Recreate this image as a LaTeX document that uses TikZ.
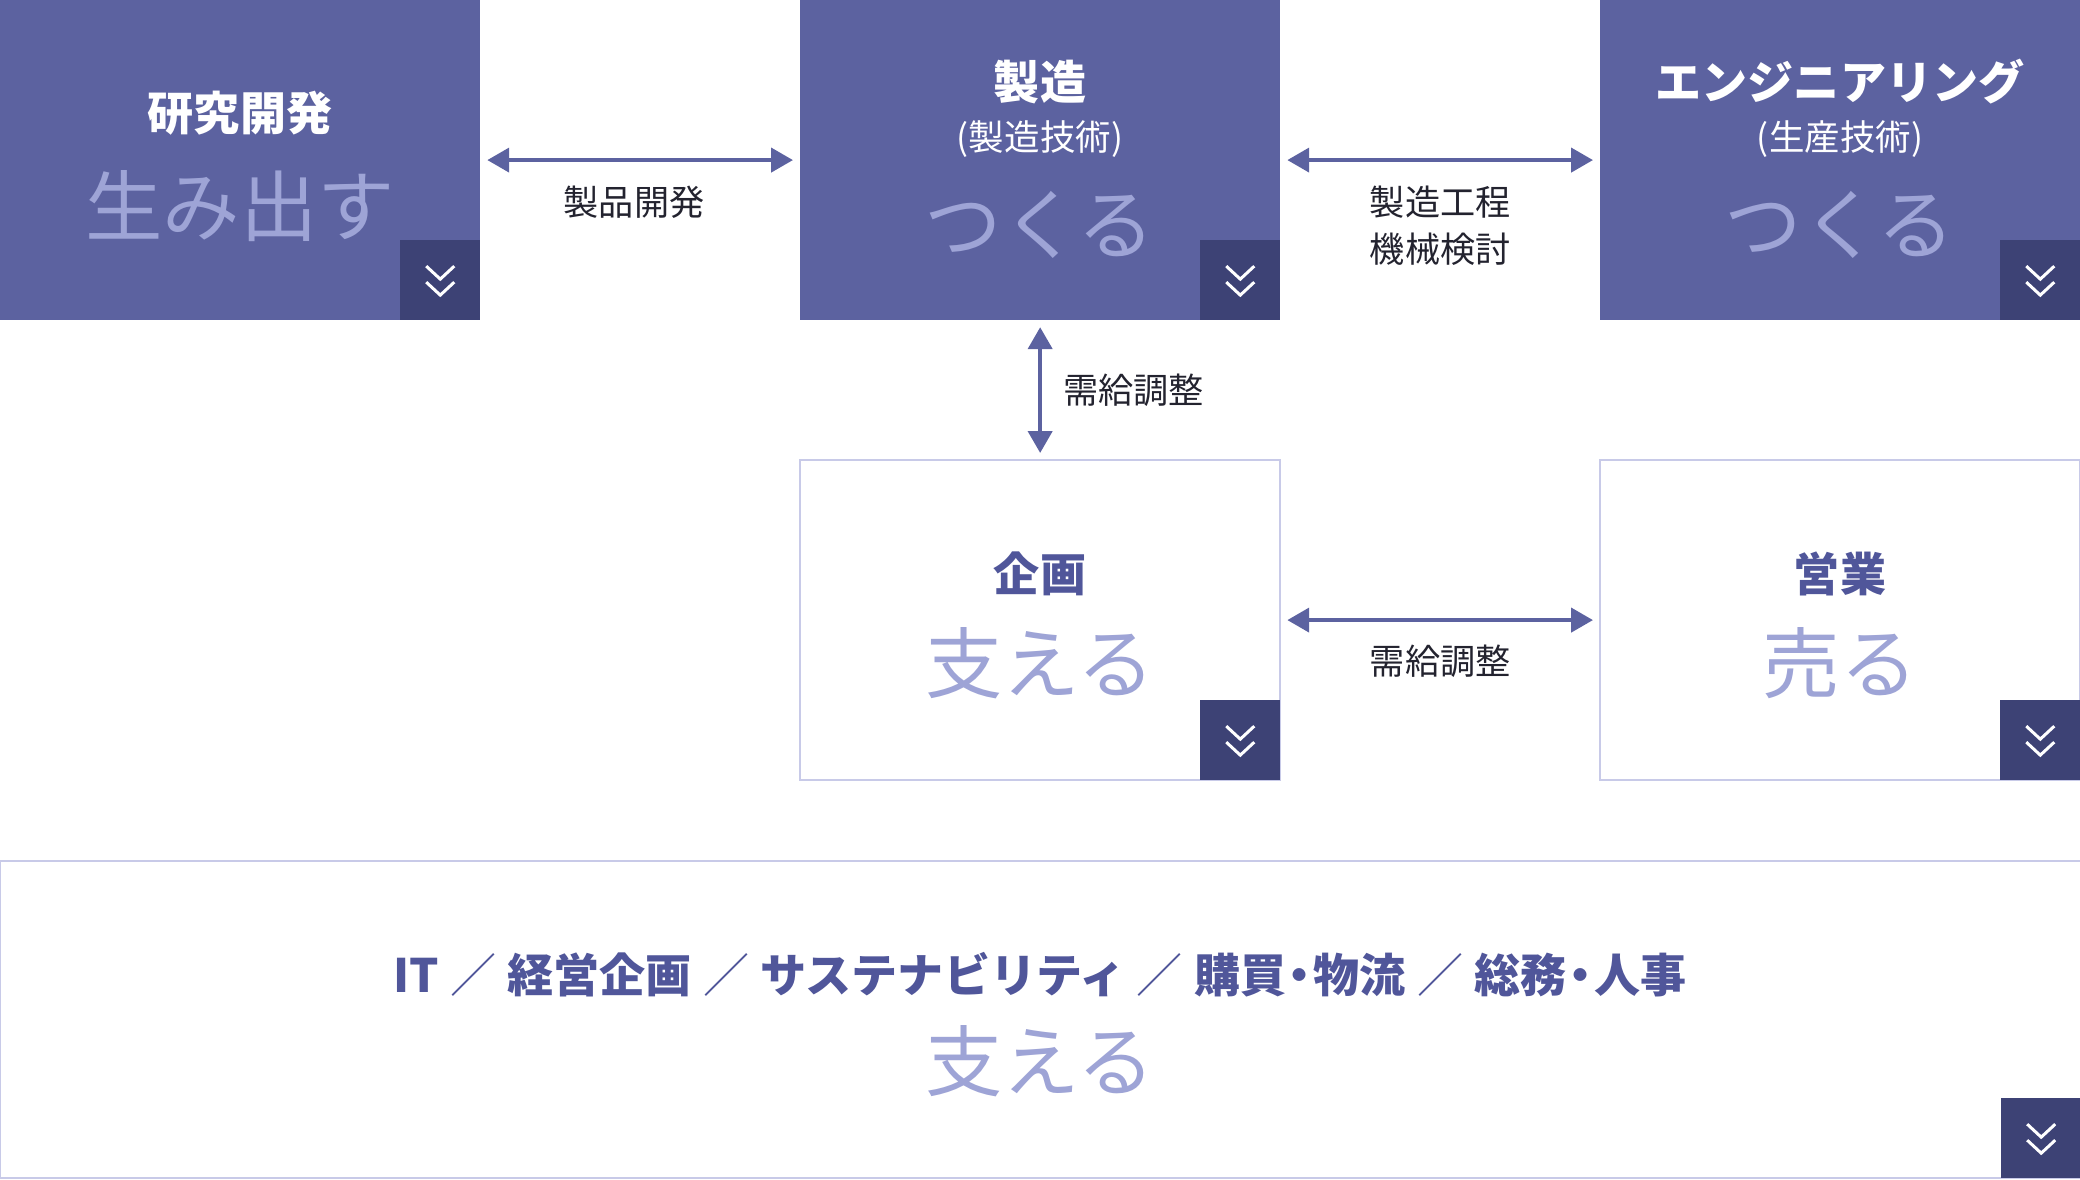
\documentclass[tikz,border=0pt]{standalone}
\usepackage{fontspec}
\newfontfamily\jp{Noto Sans CJK JP}
\usetikzlibrary{%
	arrows.meta,%
	positioning%
}
\definecolor{deptblue}{HTML}{5C62A0}
\definecolor{deptdark}{HTML}{3D4275}
\definecolor{softlav}{HTML}{9EA4D6}
\definecolor{frameline}{HTML}{C8CAE8}
\definecolor{headblue}{HTML}{50569A}
\definecolor{labelink}{HTML}{23232F}

\newcommand{\deptsep}{\hspace{3.2pt}{\mdseries ／}\hspace{3.2pt}}
\newcommand{\deptdot}{\hspace{-0.2em}・\hspace{-0.2em}}

\tikzset{
	deptbox/.style={fill=deptblue, anchor=north west, minimum width=4.8cm, minimum height=3.2cm, inner sep=0, outer sep=0},
	framebox/.style={draw=frameline, line width=0.57pt, fill=white, anchor=north west, minimum width=4.8cm, minimum height=3.2cm, inner sep=0, outer sep=0},
	foldbox/.style={fill=deptdark, minimum size=0.8cm, inner sep=0, outer sep=0},
	chev/.style={draw=white, line width=0.85pt},
	link/.style={draw=deptblue, line width=1.14pt, {Triangle[length=6.2pt, width=6.8pt]}-{Triangle[length=6.2pt, width=6.8pt]}, shorten <=2pt, shorten >=2pt},
	arrowlabel/.style={text=labelink, inner sep=0, font=\jp\fontsize{10}{13.4}\selectfont},
	headline/.style={inner sep=0, font=\jp\bfseries\fontsize{13.1}{15}\selectfont},
	subline/.style={text=white, inner sep=0, font=\jp\fontsize{10.1}{12}\selectfont},
	softword/.style={text=softlav, inner sep=0, font=\jp\fontsize{22}{26}\selectfont}
}

\begin{document}
\begin{tikzpicture}[x=0.01cm, y=-0.01cm]
	\useasboundingbox (0,0) rectangle (2080,1180);

	% Top row: filled department boxes
	\node[deptbox] (rd) at (0,0) {};
	\node[deptbox] (mfg) at (800,0) {};
	\node[deptbox] (eng) at (1600,0) {};

	% Middle row and bottom strip: framed boxes
	\node[framebox] (plan) at (800,460) {};
	\node[framebox] (sales) at (1600,460) {};
	\node[framebox, minimum width=20.8cm, minimum height=3.17cm] (corp) at (0,861) {};

	% Dark corner squares with double chevrons
	\foreach \b in {rd,mfg,eng,plan,sales,corp} {
		\node[foldbox, anchor=south east] (\b-more) at (\b.south east) {};
		\foreach \dy in {-14,2}
			\draw[chev] ([shift={(-14,\dy)}]\b-more.center) -- ++(14,13) -- ++(14,-13);
	}

	% Texts in the top boxes
	\node[headline, text=white] (rd-head) at (240,113) {研究開発};
	\node[softword] (rd-soft) at (240,206) {生み出す};

	\node[headline, text=white] (mfg-head) at (1040,82) {製造};
	\node[subline] (mfg-sub) at (1040,139) {(製造技術)};
	\node[softword] (mfg-soft) at (1040,225) {つくる};

	\node[headline, text=white] (eng-head) at (1840,82) {エンジニアリング};
	\node[subline] (eng-sub) at (1840,139) {(生産技術)};
	\node[softword] (eng-soft) at (1840,225) {つくる};

	% Texts in the framed boxes
	\node[headline, text=headblue] (plan-head) at (1040,574) {企画};
	\node[softword] (plan-soft) at (1040,663) {支える};

	\node[headline, text=headblue] (sales-head) at (1840,574) {営業};
	\node[softword] (sales-soft) at (1840,663) {売る};

	\node[headline, text=headblue] (corp-head) at (1040,975)
		{IT\deptsep 経営企画\deptsep サステナビリティ\deptsep 購買\deptdot 物流\deptsep 総務\deptdot 人事};
	\node[softword] (corp-soft) at (1040,1061) {支える};

	% Links between departments
	\draw[link] (rd) -- (mfg) node[arrowlabel, midway, xshift=-0.06cm, yshift=-0.42cm] {製品開発};
	\draw[link] (mfg) -- (eng) node[arrowlabel, midway, yshift=-0.655cm, align=center] {製造工程\\機械検討};
	\draw[link] (mfg) -- (plan) node[arrowlabel, midway, anchor=west, xshift=0.21cm] {需給調整};
	\draw[link] (plan) -- (sales) node[arrowlabel, midway, yshift=-0.41cm] {需給調整};
\end{tikzpicture}
\end{document}
